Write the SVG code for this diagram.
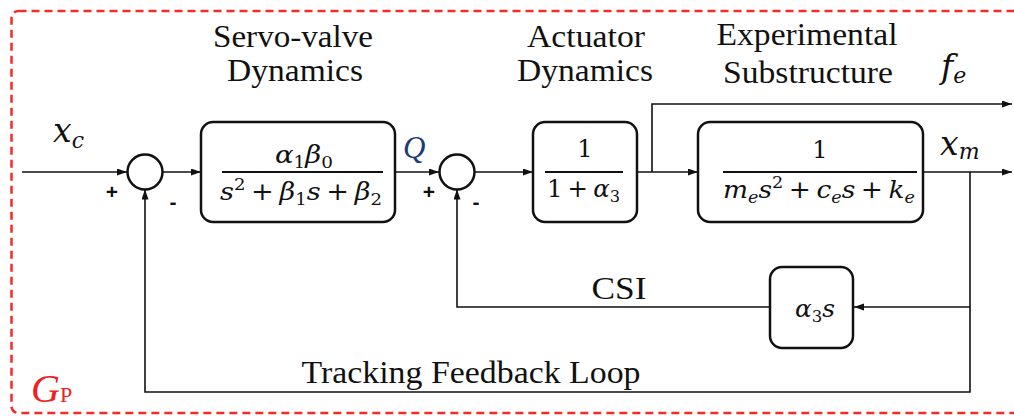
<svg xmlns="http://www.w3.org/2000/svg" width="1014" height="416" viewBox="0 0 1014 416">
<style>
.lbl{font-family:"Liberation Serif",serif;font-size:32px;fill:#111;text-anchor:middle}
.m{font-family:"DejaVu Serif",serif;font-size:24px;fill:#111}
.i{font-style:italic}
.s{font-size:16px}
.var{font-family:"DejaVu Serif",serif;font-style:italic;font-size:33px;fill:#111}
.sign{font-family:"Liberation Sans",sans-serif;font-weight:bold;font-size:21px;fill:#111;text-anchor:middle}
.box{fill:#fff;stroke:#111;stroke-width:2.5}
.sum{fill:#fff;stroke:#111;stroke-width:2.5}
.wire{fill:none;stroke:#111;stroke-width:1.6}
</style>
<defs>
<marker id="arr" markerUnits="userSpaceOnUse" markerWidth="11" markerHeight="8" refX="10" refY="3.5" orient="auto">
<path d="M0,0 L10,3.5 L0,7 z" fill="#111"/>
</marker>
</defs>
<rect x="11.5" y="11" width="1030" height="402" rx="7" fill="none" stroke="#f52a2a" stroke-width="2.5" stroke-dasharray="8 5"/>
<g id="connectors">
<line class="wire" x1="22" y1="172" x2="127" y2="172" marker-end="url(#arr)"/>
<line class="wire" x1="162.5" y1="172" x2="201" y2="172" marker-end="url(#arr)"/>
<line class="wire" x1="395" y1="172" x2="439" y2="172" marker-end="url(#arr)"/>
<line class="wire" x1="474.5" y1="172" x2="533" y2="172" marker-end="url(#arr)"/>
<line class="wire" x1="637" y1="172" x2="698" y2="172" marker-end="url(#arr)"/>
<polyline class="wire" points="652,172 652,104 1012,104" marker-end="url(#arr)"/>
<line class="wire" x1="923" y1="172" x2="1012" y2="172" marker-end="url(#arr)"/>
<polyline class="wire" points="970,172 970,392 145,392 145,189.5" marker-end="url(#arr)"/>
<line class="wire" x1="970" y1="307" x2="854" y2="307" marker-end="url(#arr)"/>
<polyline class="wire" points="770,307 457,307 457,189.5" marker-end="url(#arr)"/>
</g>
<g id="sum1">
<circle class="sum" cx="145" cy="172" r="17.5"/>
<text class="sign" x="112" y="199">+</text>
<text class="sign" x="173" y="209">-</text>
</g>
<g id="sum2">
<circle class="sum" cx="457" cy="172" r="17.5"/>
<text class="sign" x="429" y="199">+</text>
<text class="sign" x="476" y="209">-</text>
</g>
<g id="servo-valve">
<rect class="box" x="201" y="122" width="194" height="100" rx="12"/>
<text class="lbl" x="293" y="47" textLength="160" lengthAdjust="spacingAndGlyphs">Servo-valve</text>
<text class="lbl" x="295" y="81" textLength="136" lengthAdjust="spacingAndGlyphs">Dynamics</text>
<text class="m" x="275" y="163" textLength="58" lengthAdjust="spacingAndGlyphs"><tspan class="i">α</tspan><tspan class="s" dy="5">1</tspan><tspan class="i" dy="-5">β</tspan><tspan class="s" dy="5">0</tspan></text>
<line x1="222" y1="172" x2="383" y2="172" stroke="#111" stroke-width="2"/>
<text class="m" x="220" y="200" textLength="162" lengthAdjust="spacingAndGlyphs"><tspan class="i">s</tspan><tspan class="s" dy="-10">2</tspan><tspan dx="5" dy="10">+</tspan><tspan class="i" dx="5">β</tspan><tspan class="s" dy="5">1</tspan><tspan class="i" dy="-5">s</tspan><tspan dx="5">+</tspan><tspan class="i" dx="5">β</tspan><tspan class="s" dy="5">2</tspan></text>
</g>
<g id="actuator">
<rect class="box" x="533" y="122" width="104" height="100" rx="12"/>
<text class="lbl" x="586" y="47" textLength="118" lengthAdjust="spacingAndGlyphs">Actuator</text>
<text class="lbl" x="585" y="81" textLength="136" lengthAdjust="spacingAndGlyphs">Dynamics</text>
<text class="m" x="585" y="157" text-anchor="middle">1</text>
<line x1="545" y1="172" x2="623" y2="172" stroke="#111" stroke-width="2"/>
<text class="m" x="547" y="197" textLength="73" lengthAdjust="spacingAndGlyphs"><tspan>1</tspan><tspan dx="5">+</tspan><tspan class="i" dx="5">α</tspan><tspan class="s" dy="5">3</tspan></text>
</g>
<g id="substructure">
<rect class="box" x="698" y="122" width="225" height="100" rx="12"/>
<text class="lbl" x="807" y="45" textLength="181" lengthAdjust="spacingAndGlyphs">Experimental</text>
<text class="lbl" x="808" y="83" textLength="170" lengthAdjust="spacingAndGlyphs">Substructure</text>
<text class="m" x="820" y="158" text-anchor="middle">1</text>
<line x1="723" y1="172" x2="917" y2="172" stroke="#111" stroke-width="2"/>
<text class="m" x="723" y="198" textLength="192" lengthAdjust="spacingAndGlyphs"><tspan class="i">m</tspan><tspan class="s i" dy="5">e</tspan><tspan class="i" dy="-5">s</tspan><tspan class="s" dy="-10">2</tspan><tspan dx="5" dy="10">+</tspan><tspan class="i" dx="5">c</tspan><tspan class="s i" dy="5">e</tspan><tspan class="i" dy="-5">s</tspan><tspan dx="5">+</tspan><tspan class="i" dx="5">k</tspan><tspan class="s i" dy="5">e</tspan></text>
</g>
<g id="csi">
<rect class="box" x="770" y="267" width="83" height="81" rx="12"/>
<text class="m" x="795" y="317" textLength="40" lengthAdjust="spacingAndGlyphs"><tspan class="i">α</tspan><tspan class="s" dy="5">3</tspan><tspan class="i" dy="-5">s</tspan></text>
</g>
<g id="labels">
<text class="var" x="53" y="142">x<tspan font-size="22" dy="6">c</tspan></text>
<text x="403" y="158" font-family="Liberation Serif,serif" font-style="italic" font-size="31" fill="#203a78">Q</text>
<text class="var" x="940" y="155">x<tspan font-size="22" dy="4">m</tspan></text>
<text class="var" x="941" y="78">f<tspan font-size="22" dy="5">e</tspan></text>
<text class="lbl" x="619" y="299" textLength="55" lengthAdjust="spacingAndGlyphs">CSI</text>
<text class="lbl" x="471" y="383" textLength="339" lengthAdjust="spacingAndGlyphs">Tracking Feedback Loop</text>
<text x="31" y="402" font-family="Liberation Serif,serif" fill="#f02020"><tspan font-style="italic" font-size="40">G</tspan><tspan font-size="22">P</tspan></text>
</g>
</svg>
